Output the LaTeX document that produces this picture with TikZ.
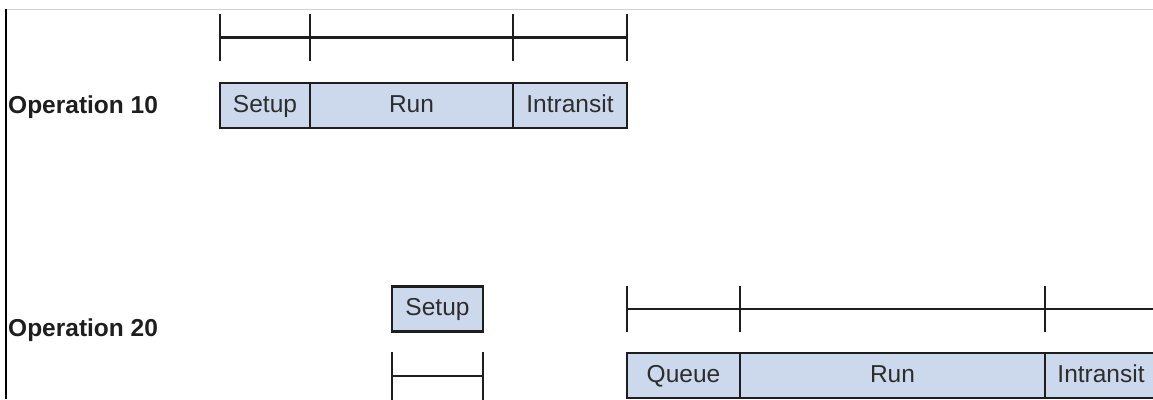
\documentclass[tikz,border=0pt]{standalone}
\usepackage{fontspec}
\setmainfont{Liberation Sans}
\definecolor{boxfill}{RGB}{204,217,236}
\definecolor{ink}{RGB}{30,30,30}
\definecolor{txt}{RGB}{45,45,45}
\definecolor{frame}{RGB}{208,208,208}
\tikzset{
  seg/.style={draw=ink, line width=2.8pt, fill=boxfill, inner sep=0pt,
    minimum height=45pt, text=txt, text height=17.5pt, text depth=4.5pt,
    font=\fontsize{24.5}{28}\selectfont},
  oplabel/.style={anchor=base west, inner sep=0pt, text=ink,
    font=\fontsize{24.5}{28}\selectfont\bfseries},
  tick/.style={draw=ink, line width=2.5pt},
  axis/.style={draw=ink, line width=2.6pt}
}
\begin{document}
\begin{tikzpicture}[x=1pt,y=-1pt]
\useasboundingbox (0,0) rectangle (1153,399);
\clip (0,0) rectangle (1153,399);
% frame edges
\coordinate (fTL) at (6,9);
\coordinate (fTR) at (1153,9);
\coordinate (fBL) at (6,399);
\draw[frame, line width=1pt] (fTL) -- (fTR);
\draw[black, line width=2pt] (fTL) -- (fBL);

% labels
\node[oplabel] (op10) at (8,113) {Operation 10};
\node[oplabel] (op20) at (8,336) {Operation 20};

% Operation 10 timeline
\foreach \n/\x in {a/220,b/310,c/513,d/627}{
  \coordinate (t1\n top) at (\x,14);
  \coordinate (t1\n bot) at (\x,61);
  \coordinate (t1\n mid) at (\x,37.5);
  \draw[tick] (t1\n top) -- (t1\n bot);
}
\draw[axis] (t1amid) -- (t1dmid);

% Operation 10 boxes
\node[seg, minimum width=90pt] (s10) at (265,105.5) {Setup};
\node[seg, minimum width=203pt] (r10) at (411.5,105.5) {Run};
\node[seg, minimum width=114pt] (i10) at (570,105.5) {Intransit};

% Operation 20 setup
\node[seg, minimum width=91pt] (s20) at (437.5,309) {Setup};
\coordinate (sbAtop) at (392,352);
\coordinate (sbAbot) at (392,402);
\coordinate (sbBtop) at (483,352);
\coordinate (sbBbot) at (483,402);
\coordinate (sbAmid) at (392,376);
\coordinate (sbBmid) at (483,376);
\draw[tick] (sbAtop) -- (sbAbot);
\draw[tick] (sbBtop) -- (sbBbot);
\draw[axis] (sbAmid) -- (sbBmid);

% Operation 20 timeline
\foreach \n/\x in {a/627,b/740,c/1045}{
  \coordinate (t2\n top) at (\x,286);
  \coordinate (t2\n bot) at (\x,332);
  \coordinate (t2\n mid) at (\x,309);
  \draw[tick] (t2\n top) -- (t2\n bot);
}
\coordinate (t2end) at (1160,309);
\draw[axis] (t2amid) -- (t2end);

% Operation 20 boxes
\node[seg, minimum width=113pt] (q20) at (683.5,375.5) {Queue};
\node[seg, minimum width=305pt] (r20) at (892.5,375.5) {Run};
\node[seg, minimum width=112pt] (i20) at (1101,375.5) {Intransit};
\end{tikzpicture}
\end{document}
